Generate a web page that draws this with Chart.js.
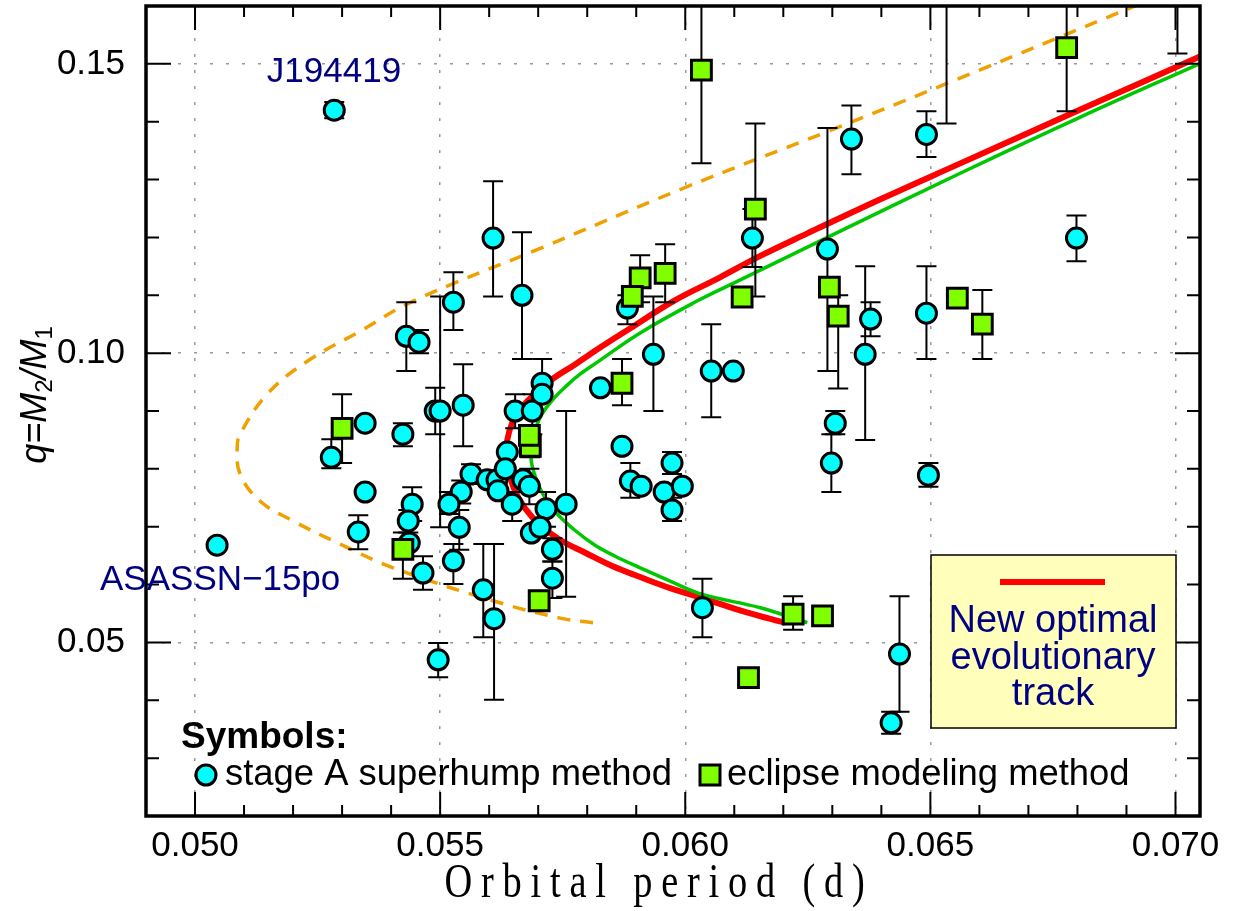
<!DOCTYPE html>
<html>
<head>
<meta charset="utf-8">
<script src="https://cdn.jsdelivr.net/npm/chart.js@4.4.1/dist/chart.umd.min.js"></script>
<style>
  html, body { margin: 0; padding: 0; background: #ffffff; }
  #wrap { width: 1242px; height: 911px; }
</style>
</head>
<body>
<div id="wrap"><canvas id="qChart"></canvas></div>
<script>
"use strict"

// stage A superhump method: period (d), q, upper and lower end of error bar
const stageA_P = [0.05284, 0.05045, 0.05278, 0.05333, 0.05347, 0.05347, 0.05431, 0.05457, 0.05424, 0.05443,
    0.05435, 0.05437, 0.05465, 0.05490, 0.05500, 0.05527, 0.05547, 0.05608, 0.05667, 0.05563,
    0.05543, 0.05518, 0.05539, 0.05527, 0.05596, 0.05616, 0.05618, 0.05647, 0.05637, 0.05633,
    0.05653, 0.05688, 0.05708, 0.05708, 0.05669, 0.05682, 0.05716, 0.05686, 0.05704, 0.05729,
    0.05729, 0.05757, 0.05588, 0.05610, 0.05496, 0.06137, 0.06290, 0.06339, 0.06492, 0.06798,
    0.05882, 0.05935, 0.05827, 0.06053, 0.06098, 0.05871, 0.05888, 0.05910, 0.05973, 0.05957,
    0.05994, 0.05973, 0.06306, 0.06298, 0.06378, 0.06367, 0.06492, 0.06496, 0.06035, 0.06437,
    0.06420, 0.06533, 0.07004];
const stageA_q = [0.1420, 0.0668, 0.0820, 0.0691, 0.0879, 0.0760, 0.1029, 0.1019, 0.0860, 0.0739,
    0.0710, 0.0672, 0.0620, 0.0900, 0.0900, 0.1088, 0.0910, 0.1199, 0.1100, 0.0791,
    0.0760, 0.0739, 0.0699, 0.0641, 0.0781, 0.0781, 0.0762, 0.0739, 0.0829, 0.0800,
    0.0900, 0.0900, 0.0948, 0.0929, 0.0781, 0.0770, 0.0731, 0.0689, 0.0699, 0.0661,
    0.0611, 0.0739, 0.0591, 0.0541, 0.0470, 0.1199, 0.1180, 0.1370, 0.1378, 0.1199,
    0.1078, 0.0998, 0.0940, 0.0969, 0.0969, 0.0839, 0.0779, 0.0770, 0.0810, 0.0760,
    0.0770, 0.0729, 0.0879, 0.0810, 0.1059, 0.0998, 0.1069, 0.0789, 0.0560, 0.0480,
    0.0361, 0.1680, 0.1700];
const stageA_qHi = [0.1434, null, 0.0851, 0.0720, null, null, 0.1088, 0.1040, 0.0879, 0.0768,
    0.0729, null, 0.0649, 0.0940, 0.1098, 0.1140, 0.0981, 0.1297, 0.1209, 0.0808,
    0.0780, 0.0760, 0.0729, 0.0670, null, null, null, 0.0760, null, null,
    0.0929, 0.0929, 0.0990, null, null, 0.0800, 0.0760, null, null, 0.0680,
    0.0640, 0.0900, 0.0670, 0.0670, 0.0499, 0.1249, 0.1389, 0.1428, 0.1418, 0.1238,
    0.1100, 0.1098, null, 0.1050, null, null, 0.0810, null, 0.0829, null,
    null, 0.0750, 0.0900, 0.0860, 0.1088, 0.1150, 0.1150, 0.0810, 0.0610, 0.0580,
    0.0380, 0.1963, 0.1882];
const stageA_qLo = [0.1406, null, 0.0801, 0.0661, null, null, 0.0969, 0.1000, 0.0839, 0.0710,
    0.0690, null, 0.0591, 0.0860, 0.0699, 0.1040, 0.0839, 0.1098, 0.0990, 0.0774,
    0.0740, 0.0722, 0.0660, 0.0601, null, null, null, 0.0710, null, null,
    0.0870, 0.0860, 0.0929, null, null, 0.0739, 0.0700, null, null, 0.0640,
    0.0577, 0.0579, 0.0509, 0.0401, 0.0440, 0.1149, 0.0969, 0.1309, 0.1339, 0.1159,
    0.1050, 0.0900, null, 0.0889, null, null, 0.0750, null, 0.0791, null,
    null, 0.0710, 0.0860, 0.0760, 0.1029, 0.0850, 0.0990, 0.0769, 0.0509, 0.0380,
    0.0342, 0.1397, 0.1518];

// eclipse modeling method
const eclipse_P = [0.05300, 0.05424, 0.05684, 0.05682, 0.05702, 0.06033, 0.06143, 0.06294, 0.06312, 0.05908,
    0.05959, 0.05892, 0.05871, 0.06116, 0.06555, 0.06606, 0.06778, 0.06220, 0.06280, 0.06129];
const eclipse_q = [0.0870, 0.0661, 0.0839, 0.0858, 0.0572, 0.1489, 0.1249, 0.1114, 0.1064, 0.1130,
    0.1138, 0.1098, 0.0948, 0.1097, 0.1095, 0.1050, 0.1528, 0.0549, 0.0546, 0.0439];
const eclipse_qHi = [0.0929, 0.0690, 0.0860, null, null, 0.1650, 0.1397, null, 0.1100, 0.1169,
    0.1188, null, 0.0990, null, null, 0.1109, 0.1700, 0.0580, null, null];
const eclipse_qLo = [0.0810, 0.0610, 0.0820, null, null, 0.1328, 0.1098, null, 0.0939, 0.1088,
    0.1088, null, 0.0910, null, null, 0.0990, 0.1418, 0.0522, null, null];

// new optimal evolutionary track (red) and the two other tracks
const trackRed_P = [0.06204, 0.06122, 0.06041, 0.05969, 0.05908, 0.05851, 0.05796, 0.05745, 0.05704, 0.05673,
    0.05651, 0.05639, 0.05635, 0.05641, 0.05655, 0.05678, 0.05724, 0.05776, 0.05827, 0.05888,
    0.05976, 0.06071, 0.06153, 0.06249, 0.06398, 0.06561, 0.06806, 0.07051];
const trackRed_q = [0.0534, 0.0553, 0.0575, 0.0594, 0.0613, 0.0632, 0.0655, 0.0677, 0.0703, 0.0732,
    0.0765, 0.0801, 0.0834, 0.0865, 0.0893, 0.0917, 0.0952, 0.0981, 0.1010, 0.1043,
    0.1090, 0.1131, 0.1168, 0.1207, 0.1266, 0.1328, 0.1421, 0.1513];
const trackGreen_P = [0.06249, 0.06153, 0.06035, 0.05969, 0.05908, 0.05857, 0.05816, 0.05776, 0.05739, 0.05714,
    0.05696, 0.05686, 0.05686, 0.05694, 0.05708, 0.05729, 0.05757, 0.05786, 0.05820, 0.05908,
    0.06024, 0.06106, 0.06290, 0.06561, 0.06806, 0.07051];
const trackGreen_q = [0.0534, 0.0560, 0.0583, 0.0606, 0.0629, 0.0649, 0.0668, 0.0693, 0.0722, 0.0750,
    0.0782, 0.0813, 0.0843, 0.0869, 0.0895, 0.0919, 0.0943, 0.0964, 0.0984, 0.1035,
    0.1090, 0.1124, 0.1200, 0.1311, 0.1408, 0.1501];
const trackOrange_P = [0.05812, 0.05745, 0.05608, 0.05404, 0.05296, 0.05200, 0.05133, 0.05092, 0.05086, 0.05092,
    0.05147, 0.05229, 0.05337, 0.05445, 0.05704, 0.05996, 0.06290, 0.06545, 0.06986];
const trackOrange_q = [0.0534, 0.0542, 0.0572, 0.0629, 0.0670, 0.0710, 0.0744, 0.0791, 0.0836, 0.0860,
    0.0929, 0.0986, 0.1038, 0.1090, 0.1181, 0.1285, 0.1383, 0.1470, 0.1624];

// axes
const xTicks = [0.050, 0.055, 0.060, 0.065, 0.070];
const yTicks = [0.05, 0.10, 0.15];
const xMin = 0.049, xMax = 0.0705;
const yMin = 0.02, yMax = 0.16;

function toPoints(xs, ys) {
    return xs.map((x, i) => ({ x: x, y: ys[i] }));
}

const NAVY = '#000080';

// error bars, drawn just before the circles so they sit above the tracks
const errorBars = {
    id: 'errorBars',
    beforeDatasetDraw(chart, args) {
        if (args.index !== 0) return;
        const ctx = chart.ctx;
        const xs = chart.scales.x, ys = chart.scales.y;
        const area = chart.chartArea;
        ctx.save();
        ctx.beginPath();
        ctx.rect(area.left, area.top, area.right - area.left, area.bottom - area.top);
        ctx.clip();
        ctx.strokeStyle = '#000000';
        ctx.lineWidth = 2;
        const groups = [[stageA_P, stageA_qHi, stageA_qLo], [eclipse_P, eclipse_qHi, eclipse_qLo]];
        groups.forEach(g => {
            g[0].forEach((p, i) => {
                if (g[1][i] === null) return;
                const px = xs.getPixelForValue(p);
                const yHi = ys.getPixelForValue(g[1][i]);
                const yLo = ys.getPixelForValue(g[2][i]);
                ctx.beginPath();
                ctx.moveTo(px, yHi); ctx.lineTo(px, yLo);
                ctx.moveTo(px - 10, yHi); ctx.lineTo(px + 10, yHi);
                ctx.moveTo(px - 10, yLo); ctx.lineTo(px + 10, yLo);
                ctx.stroke();
            });
        });
        ctx.restore();
    }
};

// frame, inward ticks, titles, labels and legends
const decor = {
    id: 'decor',
    afterDraw(chart) {
        const ctx = chart.ctx;
        const a = chart.chartArea;
        const xs = chart.scales.x, ys = chart.scales.y;
        ctx.save();

        // ticks
        ctx.strokeStyle = '#000000';
        ctx.lineWidth = 2;
        ctx.beginPath();
        for (let k = 49; k <= 70; k++) {
            const px = xs.getPixelForValue(k / 1000);
            const len = (k % 5 === 0) ? 24 : 11;
            ctx.moveTo(px, a.bottom); ctx.lineTo(px, a.bottom - len);
            ctx.moveTo(px, a.top); ctx.lineTo(px, a.top + len);
        }
        for (let k = 2; k <= 16; k++) {
            const py = ys.getPixelForValue(k / 100);
            const len = (k % 5 === 0) ? 25 : 13;
            ctx.moveTo(a.left, py); ctx.lineTo(a.left + len, py);
            ctx.moveTo(a.right, py); ctx.lineTo(a.right - len, py);
        }
        ctx.stroke();

        // frame
        ctx.lineWidth = 3.5;
        ctx.strokeRect(a.left, a.top, a.right - a.left, a.bottom - a.top);

        // x title, tall condensed serif with wide spacing
        ctx.save();
        ctx.fillStyle = '#000000';
        ctx.translate(655, 884);
        ctx.scale(0.8, 1);
        ctx.font = '48px "Liberation Serif", "Times New Roman", serif';
        ctx.letterSpacing = '11px';
        ctx.textAlign = 'center';
        ctx.textBaseline = 'middle';
        ctx.fillText('Orbital period (d)', 5, 0);
        ctx.restore();

        // y title q=M2/M1
        ctx.save();
        ctx.fillStyle = '#000000';
        ctx.translate(36, 395);
        ctx.rotate(-Math.PI / 2);
        const big = 'italic 36px "Liberation Sans", Arial, sans-serif';
        const small = '24px "Liberation Sans", Arial, sans-serif';
        const parts = [['q=M', big, 0], ['2', small, 9], ['/M', big, 0], ['1', small, 9]];
        let total = 0;
        parts.forEach(p => { ctx.font = p[1]; total += ctx.measureText(p[0]).width; });
        let cx = -total / 2;
        ctx.textAlign = 'left';
        ctx.textBaseline = 'middle';
        parts.forEach(p => {
            ctx.font = p[1];
            ctx.fillText(p[0], cx, p[2]);
            cx += ctx.measureText(p[0]).width;
        });
        ctx.restore();

        ctx.textBaseline = 'middle';

        // object labels
        ctx.fillStyle = NAVY;
        ctx.font = '35px "Liberation Sans", Arial, sans-serif';
        ctx.textAlign = 'center';
        ctx.fillText('J194419', 334, 72);
        ctx.textAlign = 'left';
        ctx.fillText('ASASSN\u221215po', 100, 580);

        // symbols legend
        ctx.fillStyle = '#000000';
        ctx.font = 'bold 37px "Liberation Sans", Arial, sans-serif';
        ctx.fillText('Symbols:', 181, 738);
        ctx.font = '36.4px "Liberation Sans", Arial, sans-serif';
        ctx.fillText('stage A superhump method', 225, 775);
        ctx.fillText('eclipse modeling method', 727, 775);
        ctx.lineWidth = 3;
        ctx.beginPath();
        ctx.arc(206, 775, 10, 0, Math.PI * 2);
        ctx.fillStyle = '#00FFFF';
        ctx.fill();
        ctx.stroke();
        ctx.fillStyle = '#80FF00';
        ctx.fillRect(700, 765, 20, 20);
        ctx.strokeRect(700, 765, 20, 20);

        // track legend box
        ctx.fillStyle = '#FFFFBB';
        ctx.fillRect(931, 555, 245, 173);
        ctx.lineWidth = 1.5;
        ctx.strokeStyle = '#000000';
        ctx.strokeRect(931, 555, 245, 173);
        ctx.strokeStyle = '#FF0000';
        ctx.lineWidth = 6;
        ctx.beginPath();
        ctx.moveTo(1000, 582); ctx.lineTo(1105, 582);
        ctx.stroke();
        ctx.fillStyle = NAVY;
        ctx.font = '38px "Liberation Sans", Arial, sans-serif';
        ctx.textAlign = 'center';
        ctx.fillText('New optimal', 1053, 622);
        ctx.fillText('evolutionary', 1053, 659);
        ctx.fillText('track', 1053, 695);

        ctx.restore();
    }
};

const canvas = document.getElementById('qChart');
const ctx = canvas.getContext('2d');

new Chart(ctx, {
    type: 'scatter',
    data: {
        datasets: [{
            label: 'stage A superhump method',
            data: toPoints(stageA_P, stageA_q),
            pointStyle: 'circle',
            pointRadius: 10,
            pointBackgroundColor: '#00FFFF',
            pointBorderColor: '#000000',
            pointBorderWidth: 3,
            order: 1
        }, {
            label: 'eclipse modeling method',
            data: toPoints(eclipse_P, eclipse_q),
            pointStyle: 'rect',
            pointRadius: 14,
            pointBackgroundColor: '#80FF00',
            pointBorderColor: '#000000',
            pointBorderWidth: 3,
            order: 0
        }, {
            label: 'New optimal evolutionary track',
            data: toPoints(trackRed_P, trackRed_q),
            showLine: true,
            tension: 0.4,
            borderColor: '#FF0000',
            borderWidth: 6,
            pointRadius: 0,
            order: 3
        }, {
            label: 'track 2',
            data: toPoints(trackGreen_P, trackGreen_q),
            showLine: true,
            tension: 0.4,
            borderColor: '#00C800',
            borderWidth: 3.5,
            pointRadius: 0,
            order: 2
        }, {
            label: 'track 3',
            data: toPoints(trackOrange_P, trackOrange_q),
            showLine: true,
            tension: 0.4,
            borderColor: '#F0A000',
            borderWidth: 3.5,
            borderDash: [13, 10],
            pointRadius: 0,
            order: 5
        }]
    },
    options: {
        responsive: true,
        maintainAspectRatio: false,
        animation: false,
        events: [],
        layout: { autoPadding: false, padding: { top: 6, right: 42, bottom: 0, left: 0 } },
        plugins: {
            legend: { display: false },
            tooltip: { enabled: false }
        },
        scales: {
            x: {
                type: 'linear',
                min: xMin,
                max: xMax,
                afterBuildTicks: scale => { scale.ticks = xTicks.map(v => ({ value: v })); },
                afterFit: scale => {
                    scale.height = 95;
                    scale.paddingLeft = 0;
                    scale.paddingRight = 0;
                },
                border: { display: false, dash: [3, 13] },
                grid: {
                    drawTicks: false,
                    color: '#999999',
                    lineWidth: 1.5
                },
                ticks: {
                    padding: 9,
                    color: '#000000',
                    maxRotation: 0,
                    font: { family: '"Liberation Sans", Arial, sans-serif', size: 35 },
                    callback: v => v.toFixed(3)
                }
            },
            y: {
                type: 'linear',
                min: yMin,
                max: yMax,
                afterBuildTicks: scale => { scale.ticks = yTicks.map(v => ({ value: v })); },
                afterFit: scale => {
                    scale.width = 146;
                    scale.paddingTop = 0;
                    scale.paddingBottom = 0;
                },
                border: { display: false, dash: [3, 13] },
                grid: {
                    drawTicks: false,
                    color: '#999999',
                    lineWidth: 1.5
                },
                ticks: {
                    padding: 21,
                    color: '#000000',
                    font: { family: '"Liberation Sans", Arial, sans-serif', size: 35 },
                    callback: v => v.toFixed(2)
                }
            }
        }
    },
    plugins: [errorBars, decor]
});
</script>
</body>
</html>
